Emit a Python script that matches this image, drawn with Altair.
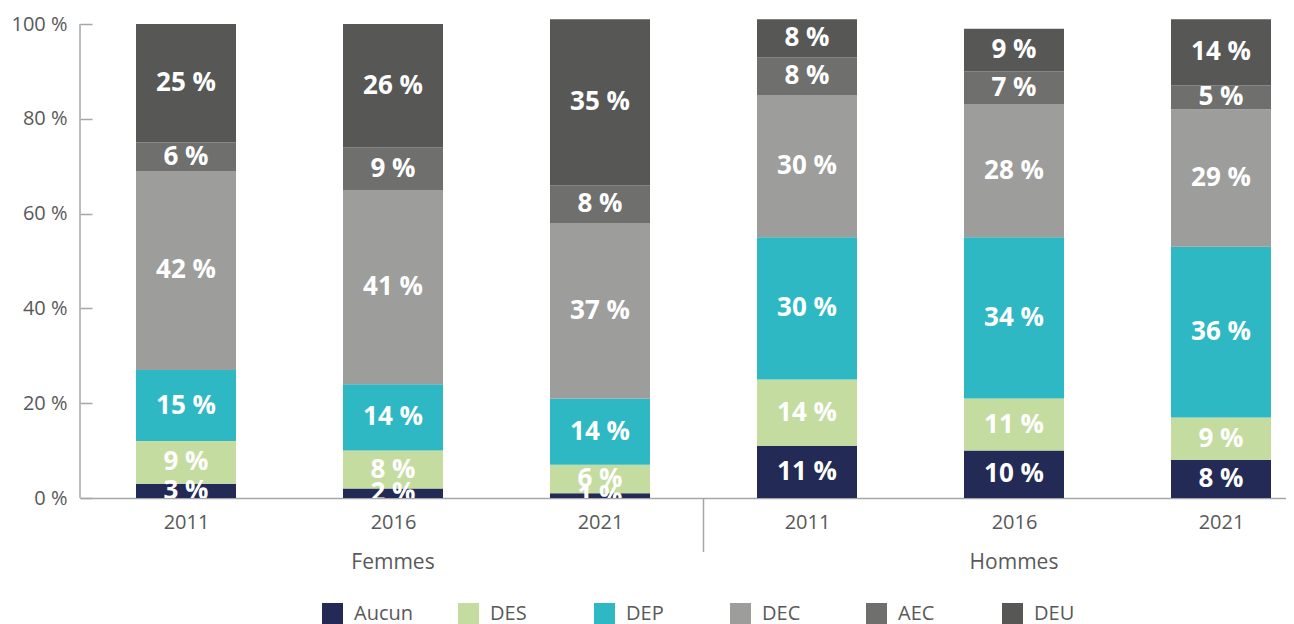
import json
import altair as alt
import pandas as pd

categories = ["Aucun", "DES", "DEP", "DEC", "AEC", "DEU"]
colors = ["#232a55", "#c5dca1", "#2eb8c3", "#9d9d9c", "#6f6f6e", "#575756"]
groups = ["Femmes", "Femmes", "Femmes", "Hommes", "Hommes", "Hommes"]
years = ["2011", "2016", "2021", "2011", "2016", "2021"]

aucun = [3, 2, 1, 11, 10, 8]
des = [9, 8, 6, 14, 11, 9]
dep = [15, 14, 14, 30, 34, 36]
dec = [42, 41, 37, 30, 28, 29]
aec = [6, 9, 8, 8, 7, 5]
deu = [25, 26, 35, 8, 9, 14]

series = [aucun, des, dep, dec, aec, deu]
rows = []
for ci, (cat, vals) in enumerate(zip(categories, series)):
    for i, v in enumerate(vals):
        rows.append({"idx": i, "group": groups[i], "year": years[i],
                     "cat": cat, "order": ci, "value": v})
df = pd.DataFrame(rows)

group_names = ["Femmes", "Hommes"]
group_df = pd.DataFrame({"idx": [1, 4], "glabel": group_names})
sep_df = pd.DataFrame({"idx": [2.5]})
yline_df = pd.DataFrame({"y0": [0], "y1": [100]})

W, H = 1206, 474
step = 207
first = 106
xscale = alt.Scale(domain=[-first / step, (W - first) / step], nice=False,
                   zero=False, padding=0)
yscale = alt.Scale(domain=[0, 100], nice=False, padding=0)

GRAY = "#595959"
LINE = "#a6a6a6"
FONT = "Open Sans"

xaxis = alt.Axis(values=[0, 1, 2, 3, 4, 5],
                 labelExpr=json.dumps(years) + "[datum.value]",
                 ticks=False, grid=False, title=None,
                 domainColor=LINE, domainWidth=1.5,
                 labelFontSize=20, labelColor=GRAY, labelFont=FONT,
                 labelPadding=14)
yaxis = alt.Axis(values=[0, 20, 40, 60, 80, 100],
                 labelExpr="datum.value + ' %'",
                 domain=False, grid=False, title=None,
                 ticks=True, tickSize=12, tickColor=LINE, tickWidth=1.5,
                 offset=-12, labelPadding=13,
                 labelFontSize=20, labelColor=GRAY, labelFont=FONT)

X = alt.X("idx:Q", scale=xscale, axis=xaxis)

base = alt.Chart(df)

bars = base.mark_bar(size=100).encode(
    x=X,
    y=alt.Y("value:Q", stack="zero", scale=yscale, axis=yaxis),
    color=alt.Color("cat:N", scale=alt.Scale(domain=categories, range=colors),
                    legend=alt.Legend(orient="none", legendX=242, legendY=579,
                                      direction="horizontal", title=None,
                                      symbolType="square", symbolSize=441,
                                      symbolStrokeWidth=0,
                                      labelFontSize=20, labelColor=GRAY,
                                      labelFont=FONT, labelOffset=11,
                                      columnPadding=44, gridAlign="all")),
    order=alt.Order("order:Q", sort="ascending"),
)

labels = base.transform_stack(
    stack="value", groupby=["idx"],
    sort=[alt.SortField("order", order="ascending")],
    as_=["v0", "v1"],
).transform_calculate(
    mid="(datum.v0 + datum.v1) / 2",
    label="datum.value + ' %'",
).mark_text(clip=True, color="white", font=FONT, fontWeight="bold",
            fontSize=26, baseline="middle", align="center").encode(
    x=X,
    y=alt.Y("mid:Q", scale=yscale, axis=yaxis),
    text="label:N",
)

group_labels = alt.Chart(group_df).mark_text(
    font=FONT, fontSize=21, color=GRAY, baseline="middle", align="center"
).encode(
    x=X,
    y=alt.value(539),
    text="glabel:N",
)

separator = alt.Chart(sep_df).mark_rule(color=LINE, strokeWidth=1.5).encode(
    x=X,
    y=alt.value(H),
    y2=alt.value(528),
)

yline = alt.Chart(yline_df).mark_rule(color=LINE, strokeWidth=1.5).encode(
    x=alt.value(0),
    y=alt.Y("y0:Q", scale=yscale, axis=yaxis),
    y2="y1:Q",
)

chart = alt.layer(bars, labels, group_labels, separator, yline).properties(
    width=W, height=H, autosize="none",
    padding={"left": 72, "top": 16, "right": 0, "bottom": 126},
).configure(font=FONT).configure_view(strokeWidth=0, stroke="transparent")

chart.save("out.html", embed_options={"renderer": "svg", "actions": False})
